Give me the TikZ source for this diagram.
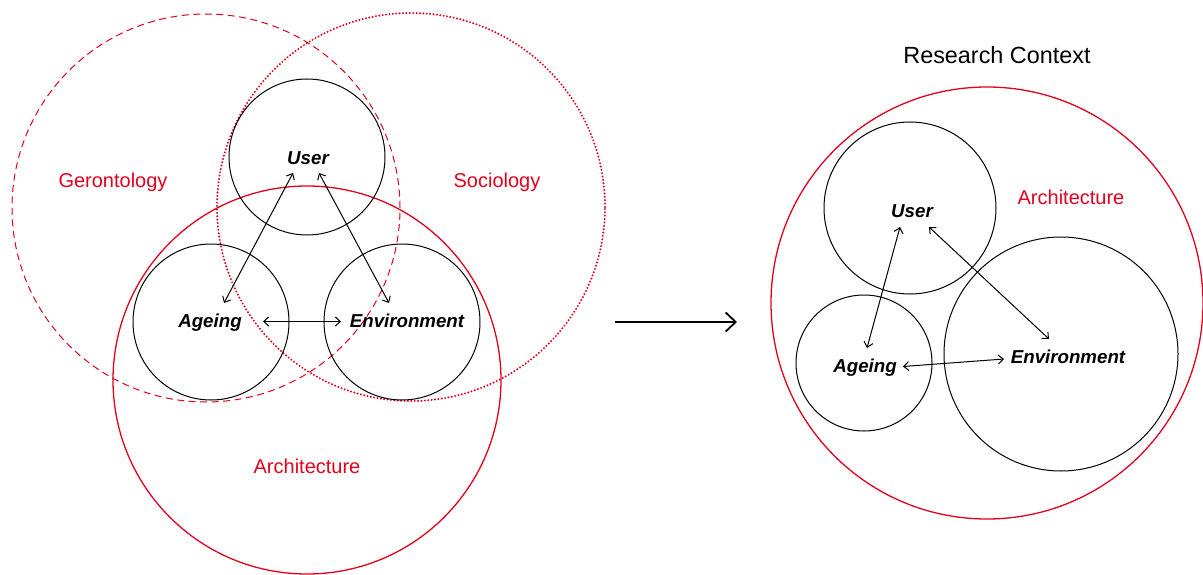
\documentclass[tikz,border=0pt]{standalone}
\usepackage{fontspec}
\setmainfont{Liberation Sans}
\usetikzlibrary{arrows.meta,calc}
\definecolor{myred}{RGB}{226,0,30}
\tikzset{
  redlabel/.style={text=myred,font=\fontsize{20}{24}\selectfont,inner sep=0pt},
  blacklabel/.style={text=black,font=\fontsize{18.7}{22}\selectfont\bfseries\itshape,inner sep=0pt},
  ring/.style={draw=black,line width=1pt},
  redring/.style={draw=myred,line width=1.3pt},
  dashring/.style={draw=myred,line width=1pt,dash pattern=on 7pt off 4.5pt},
  dotring/.style={draw=myred,line width=2.2pt,line cap=round,dash pattern=on 0pt off 3.4pt},
  link/.style={line width=1pt,{Straight Barb[length=5pt,width=9pt]}-{Straight Barb[length=5pt,width=9pt]}},
  bigarrow/.style={line width=1.8pt,-{Straight Barb[length=10pt,width=19pt,line width=1.8pt]}}
}
\begin{document}
\begin{tikzpicture}[x=1pt,y=-1pt]
\useasboundingbox (0,0) rectangle (1203,575);
\clip (0,0) rectangle (1203,575);
% left diagram
\draw[dashring] (206,208) circle[radius=194pt];
\draw[dotring] (411,207) circle[radius=194pt];
\draw[redring] (307,380) circle[radius=194pt];
\draw[ring] (307,157) circle[radius=78pt];
\draw[ring] (211,322) circle[radius=78pt];
\draw[ring] (402,322) circle[radius=78pt];
\node[redlabel] (geron) at (113,182.5) {Gerontology};
\node[redlabel] (socio) at (497,182.5) {Sociology};
\node[redlabel] (archL) at (307,466.5) {Architecture};
\node[blacklabel] (userL) at (308,158) {User};
\node[blacklabel] (ageL) at (210,323) {Ageing};
\node[blacklabel] (envL) at (407,321) {Environment};
\draw[link] ($(userL)+(-15,15)$) -- ($(ageL)+(14,-20)$);
\draw[link] ($(userL)+(11,15)$) -- ($(envL)+(-18,-18)$);
\draw[link] ($(ageL)+(53,-1.5)$) -- ($(envL)+(-66,0.5)$);
% arrow
\coordinate (arrS) at (615,322);
\coordinate (arrE) at (737,322);
\draw[bigarrow] (arrS) -- (arrE);
% right diagram
\node[font=\fontsize{23.4}{27}\selectfont,inner sep=0pt] (rc) at (997,55) {Research Context};
\draw[redring] (987,303) circle[radius=216pt];
\draw[ring] (910,208) circle[radius=86pt];
\draw[ring] (864,363) circle[radius=68pt];
\draw[ring] (1061,354) circle[radius=117pt];
\node[redlabel] (archR) at (1071,197.5) {Architecture};
\node[blacklabel] (userR) at (912,211) {User};
\node[blacklabel] (ageR) at (865,368) {Ageing};
\node[blacklabel] (envR) at (1068,357) {Environment};
\draw[link] ($(userR)+(-12,16)$) -- ($(ageR)+(2,-20)$);
\draw[link] ($(userR)+(17,16)$) -- ($(envR)+(-19,-18)$);
\draw[link] ($(ageR)+(38,-1.5)$) -- ($(envR)+(-64,2)$);
\end{tikzpicture}
\end{document}
